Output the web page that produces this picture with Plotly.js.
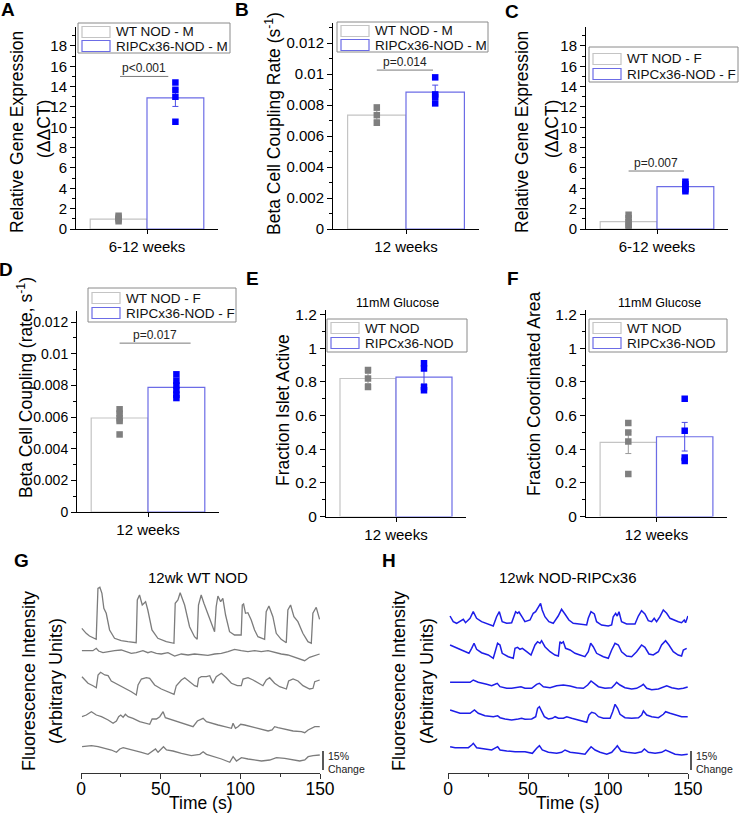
<!DOCTYPE html>
<html><head><meta charset="utf-8">
<script src="https://cdn.plot.ly/plotly-3.0.1.min.js"></script>
<style>html,body{margin:0;padding:0;background:#fff}#chart{width:740px;height:819px}</style>
</head><body><div id="chart"></div>
<script>
// ---------------- DATA ----------------
const legendA = ['WT NOD - M', 'RIPCx36-NOD - M'];
const legendC = ['WT NOD - F', 'RIPCx36-NOD - F'];
const legendE = ['WT NOD', 'RIPCx36-NOD'];
const catYoung = '6-12 weeks';
const cat12 = '12 weeks';

// A: relative gene expression, male
const aMeans = [0.97, 12.9];
const aSem = [0.12, 0.85];
const aWtPts = [0.75, 0.95, 1.1, 1.3];
const aRipPts = [14.4, 13.7, 13.0, 10.55];
// B: coupling rate, male
const bMeans = [0.00735, 0.00884];
const bSem = [0.0003, 0.00045];
const bWtPts = [0.00785, 0.00735, 0.00686];
const bRipPts = [0.00979, 0.00869, 0.00854, 0.00811];
// C: relative gene expression, female
const cMeans = [0.73, 4.16];
const cSem = [0.23, 0.17];
const cWtPts = [1.4, 1.05, 0.7, 0.4, 0.1];
const cRipPts = [4.65, 4.4, 4.15, 3.9, 3.7];
// D: coupling, female
const dMeans = [0.00594, 0.00787];
const dSem = [0.00027, 0.00025];
const dWtPts = [0.00649, 0.00622, 0.00592, 0.00575, 0.0049];
const dRipPts = [0.0087, 0.0083, 0.0080, 0.0077, 0.0074, 0.0072];
// E: fraction islet active
const eMeans = [0.82, 0.828];
const eSem = [0.03, 0.04];
const eWtPts = [0.87, 0.82, 0.77];
const eRipPts = [0.91, 0.88, 0.77, 0.75];
// F: fraction coordinated area
const fMeans = [0.44, 0.474];
const fSem = [0.066, 0.085];
const fWtPts = [0.556, 0.499, 0.445, 0.253];
const fRipPts = [0.70, 0.51, 0.35, 0.33];

const pLabels = ['p<0.001', 'p=0.014', 'p=0.007', 'p=0.017'];
const pLevels = [15.0, 0.01026, 5.7, 0.01067];

// G: 12wk WT NOD traces (time s, fluorescence arbitrary units)
const g1t = [0.6,3.3,5.4,7.5,9.6,10.7,11.9,13.2,14.4,15.9,18.0,21.1,25.3,29.5,34.7,35.4,36.8,38.5,40.6,42.0,44.6,48.3,53.6,58.4,59.2,60.9,62.3,65.1,68.2,71.3,73.0,73.8,75.5,77.2,79.7,81.8,83.9,84.9,86.0,87.7,89.1,90.8,93.3,96.4,100.6,101.3,102.1,103.3,104.8,106.9,109.0,111.1,115.3,116.3,118.0,120.5,122.6,125.7,128.9,129.9,131.6,133.7,136.2,139.3,142.5,144.6,145.6,147.7,149.8];
const g1v = [144.7,139.7,137,135.7,133.7,184.7,185.7,179.7,164.7,159.7,143,134.7,132.3,131.3,130.3,173,178,168,171.3,163,143,134.7,131.3,129.7,169.7,173,180.3,168,146.3,136.3,133.7,168,178,169.7,159.7,149.7,141.3,166.3,177,171.3,174.7,158,141.3,138,138,168,169,159.7,160.3,153,143,136.3,133.7,161.3,167,156.3,139.7,133.7,130.3,163,168,156.3,151.3,139.7,131.3,129.7,159.7,165.7,153.7];
const g2t = [0.6,4.4,7.5,9.6,11.1,13.8,17.0,21.1,25.3,28.5,31.6,34.7,38.9,42.0,44.1,47.3,50.4,54.6,58.8,63.0,67.2,71.3,75.5,79.7,83.9,88.1,92.3,96.4,100.6,104.8,109.0,113.2,117.4,121.5,125.7,129.9,134.1,138.3,140.4,143.5,146.7,149.8];
const g2v = [122.3,122,122.3,124.7,122,120.3,121.3,122.3,123,121.3,119.7,120.3,122.3,120.3,121.3,119.7,119,120.3,117,119,118,119,118,117.7,119,119.7,121.3,123.7,122.3,121.3,122.3,121.3,122.3,120.3,119,118,115.7,113.7,112.3,115.7,117,119];
const g3t = [0.6,4.4,7.5,9.6,10.7,12.3,14.9,17.0,19.0,23.2,27.4,31.6,34.7,35.8,37.9,41.0,43.1,46.2,50.4,54.6,58.4,59.8,63.0,65.1,68.2,71.3,73.0,73.8,75.5,78.7,80.8,82.8,84.9,88.1,91.2,94.4,98.1,100.6,101.7,104.8,108.0,111.1,114.2,116.3,118.4,121.5,124.7,128.9,130.3,133.1,136.2,139.3,143.5,145.6,146.7,149.8];
const g3v = [96.3,89.7,87.3,85.3,98,100.7,98,97.3,92,88.7,84.7,81.3,78,88,94,95.3,94.7,88,84,81.3,78.7,87.3,93,95.3,91.3,87.3,86.3,94.7,96.3,96.3,97.3,89.7,96.3,99.7,95.3,89.7,87.3,87.3,94,95.3,93,89.7,87.3,93,95.3,89.7,86.3,84,92,94,92,87.3,84,84.7,91.3,93];
const g4t = [0.6,3.3,6.5,9.6,12.8,17.0,20.1,22.2,23.6,24.9,26.4,27.8,29.5,32.6,36.8,39.9,43.1,44.6,47.3,49.4,51.5,52.9,55.6,59.8,65.1,70.3,73.0,76.6,78.7,81.8,86.0,90.2,94.4,95.4,96.9,98.5,100.2,102.7,106.9,112.1,117.4,119.9,121.5,123.6,127.8,133.1,138.3,140.4,142.5,144.6,146.7,149.8];
const g4v = [56.3,58,61.3,58,56.3,53,49.7,52,56.3,58,55.7,58.7,56.3,54.7,51.3,49.7,48.7,54,54,56.3,61.3,55.3,54,51.3,48.7,46.3,52,54.7,51.3,49.7,48,46.3,44.7,49.7,44.7,46.3,48.7,48,46.3,44,42,43,46.3,45.3,44,42,41.3,40.3,43,44.7,46.3,46.3];
const g5t = [0.6,6.5,10.7,14.9,19.0,22.2,24.3,26.4,29.5,33.7,37.9,42.0,44.6,46.7,48.3,50.4,51.7,53.6,57.7,63.0,69.2,74.5,76.6,78.7,83.9,88.1,93.3,95.4,97.5,100.6,104.8,109.0,113.2,118.4,122.6,127.8,133.1,137.2,140.4,142.5,145.6,149.8];
const g5v = [26.3,27.3,26.3,24.7,23,20.7,24,25.3,24,23,20.7,18.7,22,24,20.7,24.7,26.3,23,22,19.7,17.3,18.7,21.3,18.7,16.3,14,10.7,16.3,12,15.3,14,13,12,13,15.3,14.7,13,12,13,16.3,17.3,18];

// H: 12wk NOD-RIPCx36 traces
const h1t = [1.3,3.3,5.4,7.5,9.6,11.0,13.8,15.8,17.9,21.0,25.2,28.3,30.4,32.1,33.9,36.7,39.8,41.5,42.3,43.5,44.4,46.5,48.1,51.3,53.3,54.8,56.5,57.9,58.9,60.6,63.1,65.8,68.9,71.0,73.1,75.6,78.3,81.5,86.7,87.7,89.4,91.5,92.9,96.0,100.2,102.3,103.3,104.8,105.8,106.9,108.5,111.7,116.9,119.0,121.0,123.1,125.2,127.3,128.9,130.4,132.5,134.6,136.7,138.8,141.9,144.0,146.0,147.7,148.5,150];
const h1v = [157,151.3,149.7,151.3,153.7,150.3,154.7,161.3,154.7,151.3,149,147,156.3,161.3,151.3,149.7,150.3,157,161.3,159.7,161,155.7,151.3,153,159.7,161.3,166.3,169.7,163,156.3,151.3,149.7,157,163.7,159,153,149.7,149,148,154.7,161.3,159,151.3,148,147,148,156.3,159.7,157,161.3,151.3,149,149,157,162.3,159,152.3,151.3,154.7,151.3,156.3,163,159.7,154.7,152.3,151.3,150.3,153,150.3,157];
const h2t = [1.3,4.4,7.5,10.6,13.1,14.8,16.3,17.9,21.0,25.2,28.3,29.8,31.0,32.5,33.9,37.7,40.8,41.9,43.5,45.0,46.5,49.2,51.9,54.4,56.0,57.5,58.5,60.6,63.8,66.9,69.0,70.0,71.0,72.1,73.5,76.3,79.4,82.5,85.6,87.7,89.2,90.8,92.9,97.1,100.2,102.3,104.4,106.5,108.5,111.7,114.8,117.9,121.0,123.1,125.6,128.3,131.5,133.5,136.0,138.1,140.8,143.9,146.0,147.1,149.2];
const h2v = [128,125.7,123.7,121.3,119.7,124.7,129.7,123.7,120.3,118,114.7,123,129.7,128,119.7,116.3,114.7,124.7,125.7,123.7,124.7,121.3,118,128,131.3,129.7,132.3,126.3,121.3,118,117,131.3,129.7,131.3,124.7,123,119.7,118,116.3,121.3,129.7,126.3,119.7,116.3,114.7,123,129.7,128,121.3,117,116.3,121.3,128,125.7,119,118,121.3,128,132.3,128,121.3,118,117,123,124.7];
const h3t = [1.3,6.5,10.6,13.8,15.8,18.9,24.2,27.3,29.4,30.8,32.5,36.7,39.8,42.9,45.6,48.1,52.3,55.4,57.1,59.6,63.8,67.9,72.1,76.3,80.4,84.6,87.3,89.4,91.9,94.0,98.1,102.3,104.4,105.4,107.5,110.6,114.8,117.9,121.0,122.1,124.2,127.3,131.5,134.6,136.7,139.8,144.0,147.1,149.8];
const h3v = [90.7,90.7,91.3,90.7,93,90.7,88.7,87.3,88.7,89.7,86.3,84.7,84.7,85.3,86.3,84.7,84.7,88.7,89.7,86.3,85.3,87.3,88,87,85.3,84.7,88,92,88.7,86.3,84.7,85.3,88.7,90.7,88,85.3,84,84.7,87.3,88.7,84.7,83.3,84,86.3,87.3,85.3,84,84.7,86];
const h4t = [1.3,4.4,7.5,10.6,13.8,16.5,18.9,23.1,28.3,31.0,32.5,35.6,39.8,43.9,46.0,48.1,52.3,54.8,56.0,57.1,58.5,60.2,62.7,65.2,66.9,69.0,72.1,74.2,77.3,81.5,84.6,86.7,88.1,89.8,91.9,94.0,97.1,101.3,102.9,104.4,106.0,107.5,110.6,114.8,119.0,121.0,122.1,124.2,127.3,131.5,134.6,136.0,138.8,141.9,146.0,149.8];
const h4v = [63,61.3,59.7,59.7,59.7,63,59.7,57.3,56.3,57.3,55.3,54,53,54,54.7,53.7,54,56.3,64.7,66.3,61.3,56.3,54,54.7,56.3,54.7,54.7,56.3,54.7,53,51.3,50.7,58,60.7,59.7,56.3,54.7,54.7,61.3,68.7,64.7,58.7,55.3,54.7,55.3,58,62,58,56.3,55.3,58.7,61.3,59.7,58,56.3,56.3];
const h5t = [1.3,4.4,8.5,12.7,14.8,15.8,17.9,23.1,27.3,31.0,32.5,36.7,41.9,48.1,52.7,55.4,57.1,58.9,62.7,67.9,71.0,73.1,76.3,81.5,85.6,87.7,89.4,91.9,95.0,99.2,102.3,104.8,105.8,108.1,111.7,116.9,121.0,122.7,125.2,129.4,133.5,136.0,138.8,141.9,146.0,149.8];
const h5v = [26.3,25.3,25.3,25.3,28,29.7,25.3,24,23,26.3,23,22,21.3,21.3,19.7,24.7,27.3,23,20.7,19.7,20.7,23,20.7,19.7,18.7,23,26.3,23,20.7,18.7,20.7,25.3,27.3,22,20.7,19.7,21.3,24,20.7,19.7,20.7,23,20.7,18.7,18,18.7];
const scaleBarUnits = [3, 22];   // 15% change
const timeTicks = [0, 50, 100, 150];

// ---------------- STYLE / LAYOUT ----------------
const W = 740, H = 819;
const FONT = 'Liberation Sans, Arial, sans-serif';
const dx = p => p / W;
const dy = p => 1 - p / H;
const wtLine = '#c4c4c4', ripLine = '#6c6ce6';
const wtPt = '#7f7f7f', ripPt = '#0000ff';
const wtErr = '#9a9a9a', ripErr = '#4a4ae6';

const traces = [];
const layout = {
  width: W, height: H, margin: {l: 0, r: 0, t: 0, b: 0},
  paper_bgcolor: '#fff', plot_bgcolor: 'rgba(0,0,0,0)',
  font: {family: FONT, color: '#000'},
  showlegend: false,
  barmode: 'group', bargap: 0.2, bargroupgap: 0,
  scattermode: 'group', scattergap: 0.2,
  shapes: [], annotations: []
};

function txt(x, y, t, size, extra) {
  layout.annotations.push(Object.assign({xref: 'paper', yref: 'paper', x: dx(x), y: dy(y), text: t, showarrow: false,
    xanchor: 'center', yanchor: 'middle', font: {size: size, color: '#000'}}, extra || {}));
}
// rotated (vertical) title lines: [x, y, text]
function vtitle(lines, size) {
  lines.forEach(l => txt(l[0], l[1], l[2], size, {textangle: -90}));
}

function barPanel(i, cat, means, sems, wtPts, ripPts, box, yr, dtick, tickSize) {
  const xa = 'x' + (i === 1 ? '' : i), ya = 'y' + (i === 1 ? '' : i);
  traces.push({type: 'bar', x: [cat], y: [means[0]], xaxis: xa, yaxis: ya, offsetgroup: 'wt',
    marker: {color: '#fff', line: {color: wtLine, width: 1.2}},
    error_y: {type: 'data', array: [sems[0]], color: wtErr, thickness: 1, width: 3}});
  traces.push({type: 'bar', x: [cat], y: [means[1]], xaxis: xa, yaxis: ya, offsetgroup: 'rip',
    marker: {color: '#fff', line: {color: ripLine, width: 1.2}},
    error_y: {type: 'data', array: [sems[1]], color: ripErr, thickness: 1, width: 3}});
  traces.push({type: 'scatter', mode: 'markers', x: wtPts.map(() => cat), y: wtPts, xaxis: xa, yaxis: ya,
    offsetgroup: 'wt', marker: {symbol: 'square', size: 6.5, color: wtPt}});
  traces.push({type: 'scatter', mode: 'markers', x: ripPts.map(() => cat), y: ripPts, xaxis: xa, yaxis: ya,
    offsetgroup: 'rip', marker: {symbol: 'square', size: 6.5, color: ripPt}});
  layout['xaxis' + (i === 1 ? '' : i)] = {
    domain: [dx(box[0]), dx(box[1])], anchor: ya, type: 'category', range: [-0.5, 0.5],
    showline: true, linecolor: '#000', linewidth: 1, ticks: 'outside', ticklen: 4, tickcolor: '#000',
    tickfont: {size: 15}, showgrid: false, zeroline: false, fixedrange: true
  };
  layout['yaxis' + (i === 1 ? '' : i)] = {
    domain: [dy(box[3]), dy(box[2])], anchor: xa, range: yr, tick0: 0, dtick: dtick,
    showline: true, linecolor: '#000', linewidth: 1, ticks: 'outside', ticklen: 5, tickcolor: '#000',
    minor: {ticks: 'outside', ticklen: 3, dtick: dtick / 2, tickcolor: '#000', showgrid: false},
    showgrid: false, zeroline: false, tickfont: {size: tickSize}, fixedrange: true
  };
}

barPanel(1, catYoung, aMeans, aSem, aWtPts, aRipPts, [76, 218, 26.6, 229], [0, 19.9], 2, 15);
barPanel(2, cat12, bMeans, bSem, bWtPts, bRipPts, [333, 479, 23, 229], [0, 0.0133], 0.002, 15);
barPanel(3, catYoung, cMeans, cSem, cWtPts, cRipPts, [586, 728, 26.6, 229], [0, 19.9], 2, 15);
barPanel(4, cat12, dMeans, dSem, dWtPts, dRipPts, [77, 219, 311, 512], [0, 0.0127], 0.002, 14);
barPanel(5, cat12, eMeans, eSem, eWtPts, eRipPts, [326, 466, 309.5, 516.5], [0, 1.23], 0.2, 15.5);
barPanel(6, cat12, fMeans, fSem, fWtPts, fRipPts, [586, 727, 309.5, 516.5], [0, 1.23], 0.2, 15.5);

// y-axis titles
vtitle([[17, 132, 'Relative Gene Expression'], [44, 129, '(ΔΔCT)']], 17.5);
vtitle([[273, 124, 'Beta Cell Coupling Rate (s<sup>-1</sup>)']], 17.5);
vtitle([[522, 132, 'Relative Gene Expression'], [552, 129, '(ΔΔCT)']], 17.5);
vtitle([[25, 388, 'Beta Cell Coupling (rate, s<sup>-1</sup>)']], 17.5);
vtitle([[283, 410, 'Fraction Islet Active']], 17.5);
vtitle([[534, 394, 'Fraction Coordinated Area']], 17.5);
vtitle([[29, 681, 'Fluorescence Intensity'], [56, 681, '(Arbitrary Units)']], 18);
vtitle([[399, 681, 'Fluorescence Intensity'], [427, 681, '(Arbitrary Units)']], 18);

// p-value brackets (data coords)
const pSpec = [[1, -0.19, 0.15], [2, -0.2, 0.185], [3, -0.2, 0.19], [4, -0.2, 0.3]];
pSpec.forEach((s, k) => {
  const n = s[0] === 1 ? '' : s[0];
  layout.shapes.push({type: 'line', xref: 'x' + n, yref: 'y' + n, x0: s[1], x1: s[2], y0: pLevels[k], y1: pLevels[k],
    line: {color: '#7a7a7a', width: 1}});
  layout.annotations.push({xref: 'x' + n, yref: 'y' + n, x: (s[1] + s[2]) / 2, y: pLevels[k], yanchor: 'bottom', yshift: -1,
    text: pLabels[k], showarrow: false, font: {size: 12, color: '#222'}});
});

// custom legend boxes (pixel layout)
function legendBox(x0, x1, y0, y1, rows, labels) {
  layout.shapes.push({type: 'rect', xref: 'paper', yref: 'paper', x0: dx(x0), x1: dx(x1), y0: dy(y0), y1: dy(y1),
    line: {color: '#8a8a8a', width: 1}, fillcolor: '#fff', layer: 'above'});
  [wtLine, ripLine].forEach((c, k) => {
    layout.shapes.push({type: 'rect', xref: 'paper', yref: 'paper', x0: dx(x0 + 4), x1: dx(x0 + 32),
      y0: dy(rows[k] + 5.5), y1: dy(rows[k] - 5.5), line: {color: c, width: 1.2}, fillcolor: '#fff', layer: 'above'});
    layout.annotations.push({xref: 'paper', yref: 'paper', x: dx(x0 + 36), y: dy(rows[k]), xanchor: 'left', yanchor: 'middle',
      text: labels[k], showarrow: false, font: {size: 13.5, color: '#111'}});
  });
}
legendBox(78, 230, 23, 53, [32, 46], legendA);
legendBox(337, 488, 22, 52, [31, 45], legendA);
legendBox(589, 738, 47, 82, [59, 74], legendC);
legendBox(88, 236, 288, 322, [298, 313], legendC);
legendBox(327, 467, 319, 352, [328, 343], legendE);
legendBox(589, 727, 319, 352, [328, 343], legendE);

// text labels
[['A', 8, 10], ['B', 242, 10], ['C', 512, 12], ['D', 6, 270], ['E', 252, 278], ['F', 513, 278], ['G', 21, 560], ['H', 389, 560]]
  .forEach(l => txt(l[1], l[2], '<b>' + l[0] + '</b>', 19));
txt(398, 303, '11mM Glucose', 12.5);
txt(659, 303, '11mM Glucose', 12.5);
txt(198, 577, '12wk WT NOD', 15);
txt(568, 577, '12wk NOD-RIPCx36', 15);
txt(200.5, 803, 'Time (s)', 17.5);
txt(568, 803, 'Time (s)', 17.5);

// G and H traces
const gT = [g1t, g2t, g3t, g4t, g5t], gV = [g1v, g2v, g3v, g4v, g5v];
const hT = [h1t, h2t, h3t, h4t, h5t], hV = [h1v, h2v, h3v, h4v, h5v];
gT.forEach((t, k) => traces.push({type: 'scatter', mode: 'lines', x: t, y: gV[k], xaxis: 'x7', yaxis: 'y7',
  line: {color: '#7c7c7c', width: 1.3}}));
hT.forEach((t, k) => traces.push({type: 'scatter', mode: 'lines', x: t, y: hV[k], xaxis: 'x8', yaxis: 'y8',
  line: {color: '#1d1de8', width: 1.5}}));

function tracePanel(i, x0, x1) {
  layout['xaxis' + i] = {domain: [dx(x0), dx(x1)], anchor: 'y' + i, range: [0, 150], tickvals: timeTicks,
    showline: true, linecolor: '#333', ticks: 'outside', ticklen: 5, tickcolor: '#333',
    minor: {ticks: 'outside', ticklen: 3, dtick: 25, tickcolor: '#333', showgrid: false},
    showgrid: false, zeroline: false, tickfont: {size: 17.5}, ticklabelstandoff: -5, fixedrange: true};
  layout['yaxis' + i] = {domain: [dy(773), dy(582)], anchor: 'x' + i, range: [0, 191],
    showline: false, showticklabels: false, ticks: '', showgrid: false, zeroline: false, fixedrange: true};
  // scale bar: 15% change
  const yb = dy(773), yt = dy(582);
  const f = v => yb + (yt - yb) * v / 191;
  layout.shapes.push({type: 'line', xref: 'paper', yref: 'paper', x0: dx(x1 + 3), x1: dx(x1 + 3),
    y0: f(scaleBarUnits[0]), y1: f(scaleBarUnits[1]), line: {color: '#000', width: 1.3}});
  txt(x1 + 6, 756, '15%', 10.5, {xanchor: 'left', font: {size: 10.5, color: '#222'}});
  txt(x1 + 6, 769, 'Change', 10.5, {xanchor: 'left', font: {size: 10.5, color: '#222'}});
}
tracePanel(7, 81, 320);
tracePanel(8, 448, 688);

traces.forEach(t => { t.showlegend = false; t.hoverinfo = 'skip'; });
Plotly.newPlot('chart', traces, layout, {staticPlot: true, displayModeBar: false});
</script>
</body></html>
